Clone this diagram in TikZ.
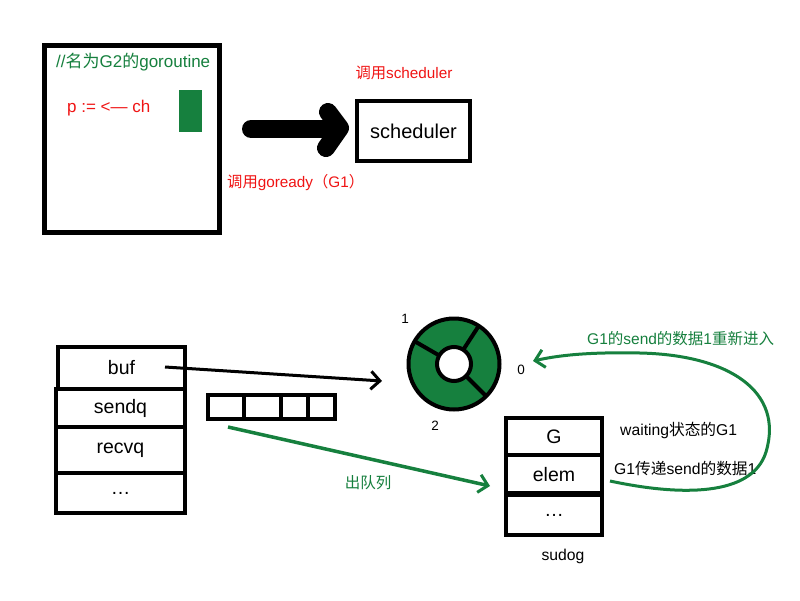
\documentclass[tikz,border=0pt]{standalone}
\usepackage{fontspec}
\setmainfont{Liberation Sans}
\newfontfamily\cjk{Noto Sans CJK SC}
\usetikzlibrary{arrows.meta,calc}
\definecolor{gr}{RGB}{22,128,62}
\definecolor{rd}{RGB}{240,20,20}
\newcommand{\zh}[1]{{\cjk #1}}
\begin{document}
\begin{tikzpicture}[x=1pt,y=-1pt,
  cell/.style={draw=black,line width=4pt,inner sep=0pt,anchor=north west,font=\fontsize{19.5}{21}\selectfont},
  redlbl/.style={text=rd,font=\fontsize{15.3}{17}\selectfont,inner sep=0pt},
  grlbl/.style={text=gr,font=\fontsize{15.5}{17}\selectfont,inner sep=0pt},
  blklbl/.style={text=black,font=\fontsize{15.7}{17}\selectfont,inner sep=0pt},
  numlbl/.style={text=black,font=\fontsize{13.5}{15}\selectfont,inner sep=0pt},
  barb/.style={-{Straight Barb[length=9pt,width=18pt,line width=3pt]}}
]
\useasboundingbox (0,0) rectangle (800,600);
\fill[white] (0,0) rectangle (800,600);

% top-left goroutine box
\node[draw=black,line width=5pt,minimum width=175pt,minimum height=187pt,anchor=north west,inner sep=0pt] (g2) at (41.5,42.5) {};
\node[grlbl,anchor=west,font=\fontsize{17}{19}\selectfont] (g2t) at (56,62) {//\zh{名为}G2\zh{的}goroutine};
\node[redlbl,anchor=west,font=\fontsize{17}{19}\selectfont] (recv) at (67,108) {p := <— ch};
\node[fill=gr,minimum width=23pt,minimum height=42pt,inner sep=0pt,anchor=north west] (blk) at (179,90) {};

% big arrow
\coordinate (bs) at (251,129);
\coordinate (be) at (338,129);
\draw[line width=18pt,line cap=round] (bs) -- (be);
\draw[line width=18pt,line cap=round,line join=round] (328,112) -- (340,128) -- (326,148);

% scheduler
\node[draw=black,line width=4pt,minimum width=113pt,minimum height=60pt,inner sep=0pt,anchor=north west,font=\fontsize{20}{22}\selectfont] (sch) at (355,99) {scheduler};
\node[redlbl] (callsch) at (404,73) {\zh{调用}scheduler};
\node[redlbl,anchor=west] (callgo) at (227,183) {\zh{调用}goready\zh{（}G1\zh{）}};

% hchan table
\node[cell,minimum width=127pt,minimum height=42pt] (buf) at (56,345) {buf};
\node[cell,minimum width=129pt,minimum height=38pt] (sendq) at (54,387) {sendq};
\node[cell,minimum width=129pt,minimum height=46pt] (recvq) at (54,425) {recvq};
\node[cell,minimum width=129pt,minimum height=40pt] (dots) at (54,471) {\dots};

% queue cells
\draw[line width=3.5pt] (208,395) rectangle (335,419);
\draw[line width=3.5pt] (244,395) -- (244,419) (281,395) -- (281,419) (308,395) -- (308,419);

% buf arrow
\coordinate (bufp) at (165,367);
\coordinate (ringin) at (382,381);
\draw[line width=3pt,barb] (bufp) -- (ringin);

% ring
\coordinate (rc) at (454,364);
\fill[gr] (rc) circle (45.5);
\draw[line width=4pt] (rc) circle (45.5);
\draw[line width=4pt,fill=white] (rc) circle (17);
\foreach \a in {45,210,-57} {
  \draw[line width=4pt] ($(rc)+(\a:17)$) -- ($(rc)+(\a:45.5)$);
}
\node[numlbl] (n1) at (405,319) {1};
\node[numlbl] (n0) at (521,370) {0};
\node[numlbl] (n2) at (435,426) {2};

% dequeue arrow
\coordinate (qs) at (228,427);
\coordinate (qe) at (490,486);
\draw[gr,line width=3.5pt,barb] (qs) -- (qe);
\node[grlbl] (deq) at (368,483) {\zh{出队列}};

% sudog
\node[cell,minimum width=96pt,minimum height=37pt] (sg) at (504,416) {G};
\node[cell,minimum width=96pt,minimum height=40pt] (se) at (504,453) {elem};
\node[cell,minimum width=96pt,minimum height=40pt] (sd) at (504,493) {\dots};
\draw[line width=5pt] (508,493) -- (600,493);
\node[blklbl] (sudog) at (563,556) {sudog};
\node[blklbl,anchor=west] (wait) at (620,430) {waiting\zh{状态的}G1};
\node[blklbl,anchor=west] (pass) at (614,469) {G1\zh{传递}send\zh{的数据}1};

% re-enter curve
\coordinate (cs) at (610,481);
\coordinate (ce) at (533,361);
\draw[gr,line width=3pt,barb] (cs) .. controls (680,496) and (752,497) .. (766,452)
  .. controls (784,392) and (730,355) .. (640,353)
  .. controls (590,352) and (560,355) .. (ce);
\node[grlbl,anchor=west] (reent) at (587,339) {G1\zh{的}send\zh{的数据}1\zh{重新进入}};
\end{tikzpicture}
\end{document}
